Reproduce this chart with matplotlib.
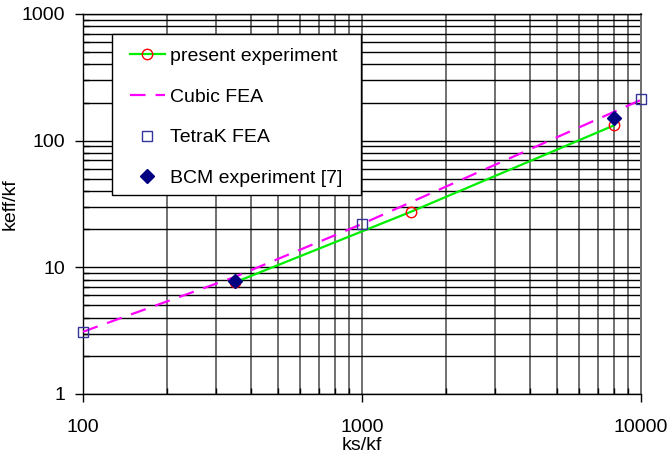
import matplotlib
matplotlib.use("Agg")
import matplotlib.pyplot as plt
from matplotlib.patches import Rectangle
from matplotlib.ticker import LogLocator, FixedLocator, NullFormatter

plt.rcParams['font.family'] = ['Liberation Sans', 'DejaVu Sans']

# stiffness ratio ks/kf and effective stiffness ratio keff/kf
present_x = [350, 1500, 8000]
present_y = [7.6, 27.5, 132]

cubic_x = [100, 350, 1000, 10000]
cubic_y = [3.1, 8.4, 22, 210]

tetra_x = [100, 1000, 10000]
tetra_y = [3.1, 22, 212]

bcm_x = [350, 8000]
bcm_y = [7.8, 152]

fig = plt.figure(figsize=(6.69, 4.57), dpi=100)
ax = fig.add_axes([83/669, 1 - 394/457, (641 - 83)/669, (394 - 14)/457])
ax.set_xscale('log')
ax.set_yscale('log')
ax.set_xlim(100, 10000)
ax.set_ylim(1, 1000)

# grid: vertical lines grey, horizontal lines black, at every decade subdivision
ax.xaxis.set_minor_locator(LogLocator(base=10, subs=range(2, 10)))
ax.yaxis.set_minor_locator(LogLocator(base=10, subs=range(2, 10)))
ax.xaxis.set_minor_formatter(NullFormatter())
ax.yaxis.set_minor_formatter(NullFormatter())
ax.xaxis.set_major_locator(FixedLocator([100, 1000, 10000]))
ax.yaxis.set_major_locator(FixedLocator([1, 10, 100, 1000]))
ax.set_xticklabels(['100', '1000', '10000'])
ax.set_yticklabels(['1', '10', '100', '1000'])

ax.grid(True, which='both', axis='x', color='#707070', lw=1.4)
ax.grid(True, which='both', axis='y', color='black', lw=1.0)
ax.set_axisbelow(True)

for side in ['left', 'bottom', 'top']:
    ax.spines[side].set_color('black')
    ax.spines[side].set_linewidth(1.0)
ax.spines['right'].set_color('#707070')
ax.spines['right'].set_linewidth(1.4)

ax.tick_params(which='major', direction='out', length=6, width=1.0,
               labelsize=14)
ax.tick_params(axis='y', which='major', pad=7)
ax.tick_params(axis='x', which='major', pad=12)
ax.tick_params(which='minor', direction='in', length=4, width=1.0)

ax.plot(present_x, present_y, color='#00ee00', lw=1.6, marker='o', ms=7.5,
        mfc='none', mec='red', mew=1.0, label='present experiment', zorder=3,
        clip_on=False)
ax.plot(cubic_x, cubic_y, color='#ff00ff', lw=1.6, ls=(0, (7, 4.5)),
        label='Cubic FEA', zorder=3)
ax.plot(tetra_x, tetra_y, ls='none', marker='s', ms=7.5, mfc='none',
        mec='#34349a', mew=1.0, label='TetraK FEA', zorder=4, clip_on=False)
ax.plot(bcm_x, bcm_y, ls='none', marker='D', ms=7, mfc='#000080',
        mec='#000080', label='BCM experiment [7]', zorder=5, clip_on=False)

ax.set_xlabel('ks/kf', fontsize=14, labelpad=1)
ax.set_ylabel('keff/kf', fontsize=14, labelpad=2)

# legend box: white panel with a thin black border, entries placed inside it
panel = Rectangle((0.052, 0.524), 0.446, 0.423, transform=ax.transAxes,
                  facecolor='white', edgecolor='black', lw=1.0, zorder=6)
ax.add_patch(panel)
leg = ax.legend(loc='upper left', bbox_to_anchor=(0.066, 0.937), fontsize=14,
                frameon=False, numpoints=1, handlelength=1.8,
                handletextpad=0.3, labelspacing=1.18, borderpad=0.5,
                borderaxespad=0)
leg.set_zorder(7)

fig.savefig('out.png', dpi=100)
